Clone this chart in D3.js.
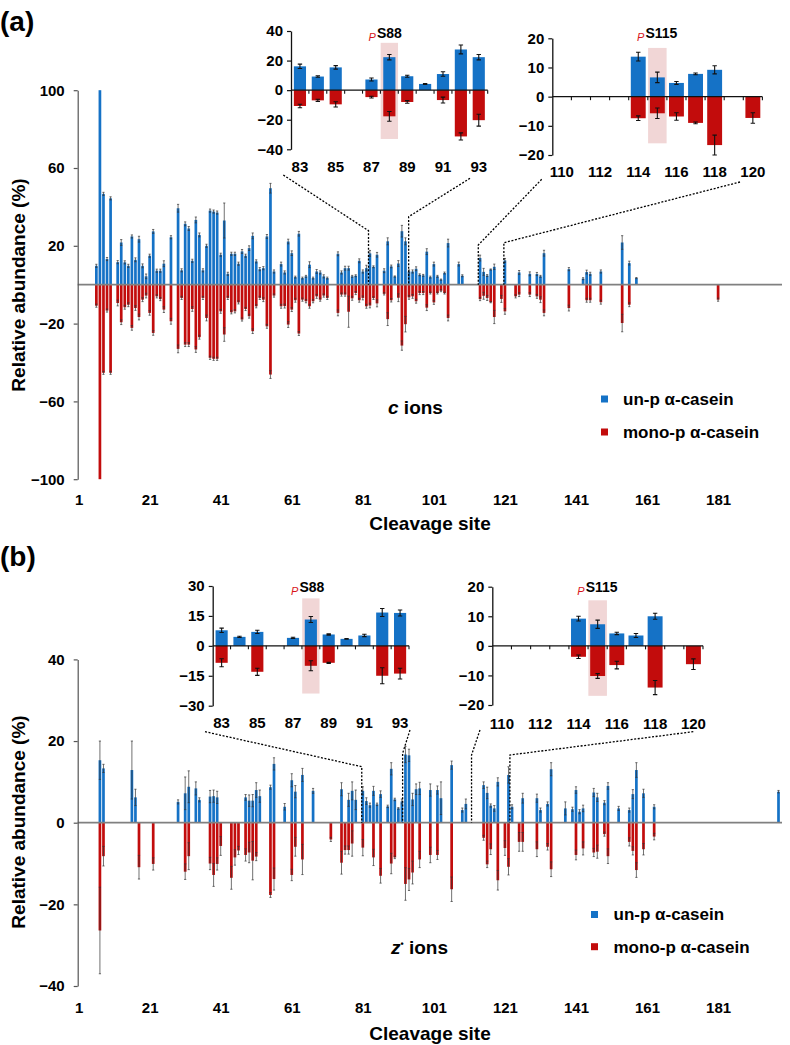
<!DOCTYPE html>
<html><head><meta charset="utf-8">
<script src="https://cdn.jsdelivr.net/npm/d3@7"></script>
<style>
body{margin:0;background:#fff;}
svg{display:block;font-family:"Liberation Sans",Arial,sans-serif;}
</style></head><body>
<svg id="chart" width="790" height="1045"></svg>
<script>
// ---------------- DATA ----------------
const xTickLabels = [1, 21, 41, 61, 81, 101, 121, 141, 161, 181];
const legendLabels = ["un-p α-casein", "mono-p α-casein"];

// Panel (a) c ions
const aSites = [6,7,8,9,10,12,13,14,15,16,17,18,19,20,21,22,23,24,25,27,29,30,31,32,33,34,35,36,37,38,39,40,41,42,43,44,45,46,47,48,49,50,51,52,53,54,55,56,58,59,60,61,62,63,64,65,66,67,68,69,70,71,74,75,76,77,78,79,80,81,82,83,84,85,87,88,89,90,91,92,93,94,95,96,97,98,99,100,101,102,103,104,105,108,109,114,115,116,117,118,120,121,124,125,128,130,131,132,139,143,144,145,148,154,156,158,181];
const aUnp = [9.7,100,46.7,13.2,44.4,11.6,21.7,11.5,9.7,24.8,12.8,23.4,9.7,4.3,14.9,27.4,7.2,7.2,10.8,24.4,39.3,7.4,31.3,28.9,12.3,33.3,25.6,7.4,20,38.1,37.6,37.1,15.4,33,5.6,15.9,15.9,10.8,17.1,14.9,18.8,25.1,12,8,8.5,24.8,49.6,6.8,10.6,6.3,22.2,16.2,3.9,26.2,3.4,4.3,10.3,3.4,6.8,6.3,4.3,3.4,15.9,6.3,8.5,8.5,4.3,4.6,12.3,6.8,8.5,16.1,9.2,15.4,7.2,22.3,9.4,4.2,10.9,27.5,22.3,6.8,6.8,8.2,5.1,4.8,17,3.9,10.6,4.3,2.6,6,21.4,10.6,4.6,13.7,6.6,4.7,7.8,9.2,null,12.5,null,6.3,5.6,5.5,4.3,16.2,8,3.1,6.5,5.6,6.8,21.7,11.1,3.4,null];
const aUnpErr = [0.8,0,0.8,0.8,0.8,0.8,1.5,0.8,0.8,0.8,1,1.5,1,1.2,0.8,1,0.8,0.8,1.5,0.8,2,0.8,1,1,0.8,1.5,1,0.8,0.8,0.8,0.8,0.8,0.8,9,0.8,0.8,0.8,0.8,1,0.8,1.2,1.5,0.8,0.8,0.8,1,2.5,0.8,1,0.8,1.2,1.2,0.5,1.2,0.5,0.5,1.5,0.5,1,0.8,0.8,0.5,1,0.8,1,1,0.5,0.5,1,0.8,1.5,1.5,0.5,1.2,1,1.8,0.7,0.3,1.5,3,1.8,0.8,0.8,1,0.5,0.5,1.5,0.5,1,0.5,0.3,0.5,2,1,0.5,1.5,1.8,0.5,0.3,1.4,null,1,null,1,1,0.8,0.5,1.5,0.8,0.5,1,0.8,0.8,3.5,1,0.3,null];
const aMono = [-10.8,-100,-45.3,-13.3,-45.3,-9.4,-19.3,-11.6,-10.3,-22.2,-12,-16.6,-7.7,-5.6,-14.5,-24.8,-6,-7.4,-12.8,-18.8,-33,-6.8,-30.8,-30.8,-12.5,-33.3,-27,-6.8,-17.1,-37.6,-38.1,-38.1,-13.7,-25.6,-6.8,-14.2,-13.7,-9.1,-17.9,-12.5,-16.2,-23.9,-11.1,-6.8,-7.7,-21.4,-46.2,-5.6,-11.1,-11,-20.5,-12.8,-8,-25.1,-7.7,-8.5,-11.1,-8.5,-6,-7.7,-5.6,-6.8,-14.5,-5.1,-5.1,-13.9,-7,-4.3,-8,-6.8,-11.1,-10.7,-6.9,-9.6,-4.7,-17.7,-8,null,-6.7,-31.3,-20.3,-6.5,-6,-8.5,-4.3,-4.3,-11.8,-4.3,-9.1,-4.3,-3.1,-4.3,-17.1,null,null,-7.4,-5.7,-6.8,-9,-16.6,-7.3,-13.7,-6,-5.1,-5.1,-6,-7.7,-14.5,-12,null,-8,-8,-9,-19.7,-10.3,null,-7.7];
const aMonoErr = [0.8,0,0.8,0.8,0.8,1.5,1.2,1,1,1.2,1.2,1.5,1,1.2,1.2,1.2,0.8,0.8,1.5,1.5,2,0.8,1,1,1.2,1.5,1,0.8,1.5,0.8,0.8,0.8,1,3.5,0.8,0.8,0.8,0.8,0.8,0.8,1,1.2,0.8,0.8,1,1,2,0.8,1,1,1.5,1,1,1,0.8,0.8,1,0.8,1,0.8,0.8,0.8,1.5,0.8,0.8,8,1,0.8,1,1,1,1.2,0.7,1.8,0.6,3.3,0.9,null,2,2.4,4,1,1,1,0.8,0.8,1.5,0.5,1,0.5,0.5,0.5,1.5,null,null,0.8,1.8,1.3,0.3,3.4,1.8,1.5,0.8,1,1,1,1.5,1.5,1.5,null,1,1,1,4.5,1,null,0.8];

// Panel (a) insets
const aIn1Cats = [83,84,85,86,87,88,89,90,91,92,93];
const aIn1Unp = [16.1,9.2,15.4,null,7.2,22.3,9.4,4.2,10.9,27.5,22.3];
const aIn1UnpErr = [1.5,0.5,1.2,null,1,1.8,0.7,0.3,1.5,3,1.8];
const aIn1Mono = [-10.7,-6.9,-9.6,null,-4.7,-17.7,-8,null,-6.7,-31.3,-20.3];
const aIn1MonoErr = [1.2,0.7,1.8,null,0.6,3.3,0.9,null,2,2.4,4];
const aIn2Cats = [110,111,112,113,114,115,116,117,118,119,120];
const aIn2Unp = [null,null,null,null,13.7,6.6,4.7,7.8,9.2,null,null];
const aIn2UnpErr = [null,null,null,null,1.5,1.8,0.5,0.3,1.4,null,null];
const aIn2Mono = [null,null,null,null,-7.4,-5.7,-6.8,-9,-16.6,null,-7.3];
const aIn2MonoErr = [null,null,null,null,0.8,1.8,1.3,0.3,3.4,null,1.8];

// Panel (b) z• ions
const bSites = [7,8,16,17,18,22,29,31,32,34,35,38,39,40,41,44,45,46,48,49,50,51,52,55,56,59,61,62,64,67,72,75,76,77,78,79,81,82,83,84,85,86,88,89,90,91,92,93,94,95,96,97,100,102,103,106,109,110,115,116,117,118,119,121,122,123,125,126,130,131,133,134,138,140,141,142,143,146,147,149,150,153,156,157,158,160,163,198];
const bUnp = [15.3,13.3,12.9,6.2,null,null,5.1,7.2,8.8,8.4,5.6,6.4,6.5,6.2,null,null,null,null,6.2,5.4,5.4,8,6.5,8.7,14.4,3.9,10.4,7.6,11.7,7.8,null,8.2,null,5.6,7.8,5.6,7.8,5.3,4.3,7.8,4.5,7,4,13.2,5.7,3.5,5.2,16.7,16.5,5.7,8.2,8.4,8,8,6,14.1,3.1,4.6,9.2,7.3,4.2,3.5,10,null,11.7,3.9,null,6,6,3.1,4.6,13.1,3.5,3.3,8,2.7,3.5,7.4,6.2,4.9,9,3.5,3.1,7,12.9,7.2,3.9,7.6];
const bUnpErr = [4.7,1,7.1,2,null,null,0.5,4,3.9,1.6,0.5,1.5,1.5,1.5,null,null,null,null,0.7,1.4,1.5,1.8,1.5,0.5,1.5,0.8,1.6,1.5,1.6,0.6,null,1.6,null,1.6,2.2,2.4,1,0.8,0.5,1.1,0.3,0.8,0.3,1.5,0.3,0.2,0.6,2,1.5,1.5,1.3,1.5,1.5,1,4,1,0.5,1.2,0.8,1.4,0.4,0.7,1,null,2,0.5,null,1.2,1,0.5,0.5,1.6,1.6,0.5,0.8,0.5,0.8,1,1,0.5,0.8,0.5,0.5,1.1,1.8,1,0.5,0.3];
const bMono = [-26.4,-8.2,null,null,-10.9,-10.1,null,-12,-8.2,null,null,-10,-12.8,-10.1,-5.7,-13.5,-8.5,-6.8,-7.9,-7.3,-9.3,-8.3,null,-17.7,-13.8,null,-12.8,-5.9,-9,null,-4.1,-9.8,-6.7,-6.7,-5.1,null,-6.1,null,null,-8.5,null,-13,null,-10,-8.5,null,null,-15,-13.9,-12.2,null,-9,-7.9,-7.9,null,-16.3,null,null,-3.7,-10.2,-6.5,null,-14.1,-6.2,-10.8,null,-4.7,-4.7,-6.5,null,-5.9,-11.4,null,null,-7.9,null,-6.3,-7.3,-7.1,-2.8,-8.2,null,-4.7,-6.9,-11.6,-6.5,-3.4,null];
const bMonoErr = [10.6,2.4,null,null,2.9,1.5,null,1.9,3.3,null,null,1.5,2.8,1.5,2.3,2.8,1.9,1,1.5,2.5,4.7,1,null,0.6,2.7,null,1.4,2.3,3.7,null,0.5,2.8,1,1,3.1,null,2,null,null,2,null,1.8,null,2.5,0.3,null,null,4,2.7,2.8,null,2,1.9,1.1,null,3,null,null,0.6,0.8,1.3,null,2.4,1.8,2,null,2.3,2.3,1.8,null,0.8,1.8,null,null,1.2,null,1.6,1,1.6,0.5,1.8,null,1,1,1.8,1.4,0.8,null];

// Panel (b) insets
const bIn1Cats = aIn1Cats;
const bIn1Unp = [7.8,4.5,7,null,4,13.2,5.7,3.5,5.2,16.7,16.5];
const bIn1UnpErr = [1.1,0.3,0.8,null,0.3,1.5,0.3,0.2,0.6,2,1.5];
const bIn1Mono = [-8.5,null,-13,null,null,-10,-8.5,null,null,-15,-13.9];
const bIn1MonoErr = [2,null,1.8,null,null,2.5,0.3,null,null,4,2.7];
const bIn2Cats = aIn2Cats;
const bIn2Unp = [null,null,null,null,9.2,7.3,4.2,3.5,10,null,null];
const bIn2UnpErr = [null,null,null,null,0.8,1.4,0.4,0.7,1,null,null];
const bIn2Mono = [null,null,null,null,-3.7,-10.2,-6.5,null,-14.1,null,-6.2];
const bIn2MonoErr = [null,null,null,null,0.6,0.8,1.3,null,2.4,null,1.8];

// ---------------- DRAW ----------------
const BLUE = "#1572c6", RED = "#c20c0c", PINK = "#f1d6d6";
const svg = d3.select("#chart");
const FONT = '"Liberation Sans", Arial, sans-serif';

function zip(sites, u, ue, m, me) {
  return sites.map((s, i) => ({s, u: u[i], ue: ue[i], m: m[i], me: me[i]}));
}

function drawBarsWithErr(g, data, xf, y, bw, cap, errColor, errW) {
  g.selectAll(null).data(data.filter(d => d.u != null)).join("rect")
    .attr("x", d => xf(d.s) - bw / 2).attr("width", bw)
    .attr("y", d => y(d.u)).attr("height", d => y(0) - y(d.u)).attr("fill", BLUE);
  g.selectAll(null).data(data.filter(d => d.m != null)).join("rect")
    .attr("x", d => xf(d.s) - bw / 2).attr("width", bw)
    .attr("y", y(0)).attr("height", d => y(d.m) - y(0)).attr("fill", RED);
  const errs = [];
  data.forEach(d => {
    if (d.u != null && d.ue) errs.push({s: d.s, v: d.u, e: d.ue});
    if (d.m != null && d.me) errs.push({s: d.s, v: d.m, e: d.me});
  });
  const eg = g.append("g").attr("stroke", errColor).attr("stroke-width", errW).attr("fill", "none");
  eg.selectAll(null).data(errs).join("path")
    .attr("d", d => {
      const cx = xf(d.s), y1 = y(d.v - d.e), y2 = y(d.v + d.e);
      return `M${cx},${y1}V${y2}M${cx - cap},${y1}H${cx + cap}M${cx - cap},${y2}H${cx + cap}`;
    });
}

function mainPanel(o) {
  const x = d3.scaleLinear().domain([1, 181]).range([78.6, 718.1]);
  const y = d3.scaleLinear().domain(o.yDomain).range(o.yRange);
  const g = svg.append("g");
  const data = zip(o.sites, o.unp, o.unpErr, o.mono, o.monoErr);
  drawBarsWithErr(g, data, x, y, 2.7, 1.1, "#333", 0.7);
  // zero line
  g.append("line").attr("x1", 77.7).attr("x2", 782).attr("y1", y(0)).attr("y2", y(0))
    .attr("stroke", "#808080").attr("stroke-width", 1.7);
  // y axis
  const ya = g.append("g").attr("transform", "translate(77.7,0)")
    .call(d3.axisLeft(y).tickValues(o.yTicks).tickSize(4).tickPadding(9).tickSizeOuter(0));
  ya.select(".domain").attr("stroke", "#555").attr("stroke-width", 1.2);
  ya.selectAll(".tick line").attr("stroke", "#555").attr("stroke-width", 1.2);
  ya.selectAll("text").attr("font-family", FONT).attr("font-size", 15).attr("font-weight", "bold").attr("fill", "#000");
  // x tick labels
  const xa = g.append("g").attr("transform", `translate(0,${o.xLabelY})`)
    .call(d3.axisBottom(x).tickValues(xTickLabels).tickSize(0).tickPadding(0).tickFormat(d3.format("d")));
  xa.select(".domain").remove();
  xa.selectAll("text").attr("y", 0).attr("dy", "0.35em").attr("font-family", FONT)
    .attr("font-size", 15).attr("font-weight", "bold").attr("fill", "#000");
  // titles
  g.append("text").attr("x", 430).attr("y", o.xTitleY).attr("dy", "0.35em").attr("text-anchor", "middle")
    .attr("font-size", 19).attr("font-weight", "bold").text("Cleavage site");
  g.append("text").attr("transform", `translate(18,${o.yTitleY}) rotate(-90)`).attr("dy", "0.35em")
    .attr("text-anchor", "middle").attr("font-size", 19).attr("font-weight", "bold").text("Relative abundance (%)");
  // legend
  const lg = g.append("g");
  [BLUE, RED].forEach((c, i) => {
    const cy = o.legY[i];
    lg.append("rect").attr("x", o.legX).attr("y", cy - 3.5).attr("width", 7).attr("height", 7).attr("fill", c);
    lg.append("text").attr("x", o.legX + o.legGap).attr("y", cy).attr("dy", "0.35em")
      .attr("font-size", 17).attr("font-weight", "bold").text(legendLabels[i]);
  });
  // connectors
  o.connectors.forEach(c => {
    const xs = x(c.site);
    g.append("path").attr("d", `M${c.from[0]},${c.from[1]}L${xs},${c.bend}L${xs},${y(0)}`)
      .attr("fill", "none").attr("stroke", "#000").attr("stroke-width", 1.3).attr("stroke-dasharray", "2,1.6");
  });
  return {x, y, g};
}

function inset(o) {
  const x = d3.scaleBand().domain(o.cats).range(o.xRange).paddingInner(o.pad).paddingOuter(o.pad / 2);
  const y = d3.scaleLinear().domain(o.yDomain).range(o.yRange);
  const g = svg.append("g");
  const xc = c => x(c) + x.bandwidth() / 2;
  // highlight
  const hw = x.step() * 0.97;
  g.append("rect").attr("x", xc(o.hl) - hw / 2).attr("width", hw)
    .attr("y", y(o.hlRange[0])).attr("height", y(o.hlRange[1]) - y(o.hlRange[0])).attr("fill", PINK);
  const data = zip(o.cats, o.unp, o.unpErr, o.mono, o.monoErr);
  drawBarsWithErr(g, data, xc, y, x.bandwidth(), 2.2, "#111", 1.1);
  // zero axis with ticks at category boundaries
  g.append("line").attr("x1", o.xRange[0]).attr("x2", o.xRange[1]).attr("y1", y(0)).attr("y2", y(0))
    .attr("stroke", "#111").attr("stroke-width", 1.3);
  g.selectAll(null).data(o.cats.slice(1).concat(["end"])).join("line")
    .attr("x1", (d, i) => o.xRange[0] + (i + 1) * x.step()).attr("x2", (d, i) => o.xRange[0] + (i + 1) * x.step())
    .attr("y1", y(0)).attr("y2", y(0) + 3.5).attr("stroke", "#111").attr("stroke-width", 1.1);
  // y axis
  const ya = g.append("g").attr("transform", `translate(${o.xRange[0]},0)`)
    .call(d3.axisLeft(y).tickValues(o.yTicks).tickSize(4).tickPadding(4).tickSizeOuter(0));
  ya.select(".domain").attr("stroke", "#111").attr("stroke-width", 1.3);
  ya.selectAll(".tick line").attr("stroke", "#111").attr("stroke-width", 1.2);
  ya.selectAll("text").attr("font-family", FONT).attr("font-size", 15).attr("font-weight", "bold").attr("fill", "#000");
  // category labels
  const xa = g.append("g").attr("transform", `translate(0,${o.labelY})`)
    .call(d3.axisBottom(x).tickValues(o.cats.filter((c, i) => i % 2 === 0)).tickSize(0).tickPadding(0));
  xa.select(".domain").remove();
  xa.selectAll("text").attr("y", 0).attr("dy", "0.35em").attr("font-family", FONT)
    .attr("font-size", 15).attr("font-weight", "bold").attr("fill", "#000");
  // site label
  const t = g.append("text").attr("x", xc(o.hl) + o.siteDx).attr("y", o.siteY).attr("dy", "0.35em")
    .attr("text-anchor", "middle").attr("font-size", 14).attr("font-weight", "bold").text(o.siteLabel);
  const bb = t.node().getBBox();
  g.append("text").attr("x", bb.x - 1).attr("y", o.siteY + 8).attr("text-anchor", "end")
    .attr("font-size", 11).attr("font-style", "italic").attr("fill", "#d8141a").text("P");
  return {x, y};
}

svg.style("font-family", FONT);

// Panel (a)
mainPanel({
  sites: aSites, unp: aUnp, unpErr: aUnpErr, mono: aMono, monoErr: aMonoErr,
  yDomain: [-100, 100], yRange: [479.2, 90.2], yTicks: [-100, -60, -20, 20, 60, 100],
  xLabelY: 500, xTitleY: 523, yTitleY: 285,
  legX: 601, legGap: 22, legY: [399, 432],
  connectors: [
    {from: [283.3, 175], bend: 230.7, site: 82.6},
    {from: [470, 178.3], bend: 216.7, site: 93.9},
    {from: [541.7, 179.3], bend: 245, site: 113.5},
    {from: [740, 182], bend: 242.7, site: 120.7}
  ]
});
svg.append("text").attr("x", 388).attr("y", 407).attr("dy", "0.35em").attr("font-size", 19).attr("font-weight", "bold")
  .call(t => { t.append("tspan").attr("font-style", "italic").text("c"); t.append("tspan").text(" ions"); });

inset({cats: aIn1Cats, unp: aIn1Unp, unpErr: aIn1UnpErr, mono: aIn1Mono, monoErr: aIn1MonoErr,
  xRange: [291, 487.7], pad: 0.32, yDomain: [-40, 40], yRange: [149.3, 31], yTicks: [-40, -20, 0, 20, 40],
  labelY: 166.7, hl: 88, hlRange: [32, -33], siteLabel: "S88", siteDx: 0, siteY: 33.3});
inset({cats: aIn2Cats, unp: aIn2Unp, unpErr: aIn2UnpErr, mono: aIn2Mono, monoErr: aIn2MonoErr,
  xRange: [552.3, 762.4], pad: 0.22, yDomain: [-20, 20], yRange: [155, 38.3], yTicks: [-20, -10, 0, 10, 20],
  labelY: 171.7, hl: 115, hlRange: [16.7, -16], siteLabel: "S115", siteDx: 4, siteY: 33.3});

// Panel (b)
mainPanel({
  sites: bSites, unp: bUnp, unpErr: bUnpErr, mono: bMono, monoErr: bMonoErr,
  yDomain: [-40, 40], yRange: [986, 659.4], yTicks: [-40, -20, 0, 20, 40],
  xLabelY: 1008, xTitleY: 1033, yTitleY: 822,
  legX: 591, legGap: 22.5, legY: [914.5, 946.7],
  connectors: [
    {from: [205, 731.7], bend: 766.7, site: 80.7},
    {from: [410, 730], bend: 753.3, site: 92.2},
    {from: [480, 730], bend: 755, site: 111.6},
    {from: [693.3, 731.7], bend: 755, site: 122.4}
  ]
});
svg.append("text").attr("x", 391).attr("y", 947).attr("dy", "0.35em").attr("font-size", 19).attr("font-weight", "bold")
  .call(t => {
    t.append("tspan").attr("font-style", "italic").text("z");
    t.append("tspan").attr("font-size", 9).attr("dy", -7).text("•");
    t.append("tspan").attr("dy", 7).text(" ions");
  });

inset({cats: bIn1Cats, unp: bIn1Unp, unpErr: bIn1UnpErr, mono: bIn1Mono, monoErr: bIn1MonoErr,
  xRange: [212.7, 409], pad: 0.32, yDomain: [-30, 30], yRange: [705.7, 586], yTicks: [-30, -15, 0, 15, 30],
  labelY: 723, hl: 88, hlRange: [23.8, -23.9], siteLabel: "S88", siteDx: 1, siteY: 586.7});
inset({cats: bIn2Cats, unp: bIn2Unp, unpErr: bIn2UnpErr, mono: bIn2Mono, monoErr: bIn2MonoErr,
  xRange: [492.3, 703], pad: 0.22, yDomain: [-20, 20], yRange: [705, 586.7], yTicks: [-20, -10, 0, 10, 20],
  labelY: 723.3, hl: 115, hlRange: [15.4, -16.9], siteLabel: "S115", siteDx: 4, siteY: 587.3});

// Panel labels
svg.append("text").attr("x", 0).attr("y", 31).attr("font-size", 28).attr("font-weight", "bold").text("(a)");
svg.append("text").attr("x", 0).attr("y", 566).attr("font-size", 28).attr("font-weight", "bold").text("(b)");
</script>
</body></html>
